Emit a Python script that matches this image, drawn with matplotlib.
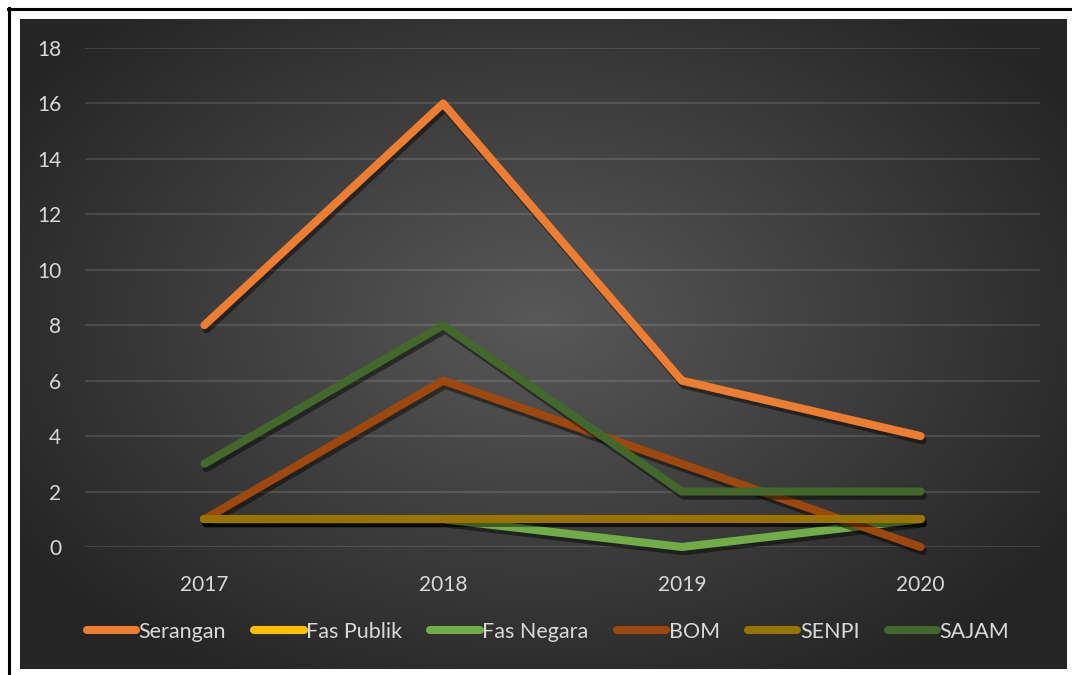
import numpy as np
import matplotlib
matplotlib.use("Agg")
import matplotlib.pyplot as plt
import matplotlib.patheffects as pe
from matplotlib.lines import Line2D

years = ["2017", "2018", "2019", "2020"]
serangan = [8, 16, 6, 4]
fas_publik = [1, 1, 1, 1]
fas_negara = [1, 1, 0, 1]
bom = [1, 6, 3, 0]
senpi = [1, 1, 1, 1]
sajam = [3, 8, 2, 2]

series = [
    ("Serangan", serangan, "#ED7D31"),
    ("Fas Publik", fas_publik, "#FFC000"),
    ("Fas Negara", fas_negara, "#70AD47"),
    ("BOM", bom, "#9E480E"),
    ("SENPI", senpi, "#997300"),
    ("SAJAM", sajam, "#43682B"),
]

W, H = 1072, 675
fig = plt.figure(figsize=(W / 100, H / 100), dpi=100, facecolor="white")

def fx(px):
    return px / W

def fy(py):
    return 1 - py / H

# dark background with radial gradient
x0, x1, y0, y1 = 20, 1067, 19, 669
bg = fig.add_axes([fx(x0), fy(y1), fx(x1 - x0), fy(y0) - fy(y1)])
bg.set_axis_off()
nx, ny = x1 - x0, y1 - y0
xx, yy = np.meshgrid(np.arange(nx), np.arange(ny))
cx, cy = 520, 300
d = np.sqrt(((xx - cx) / 620) ** 2 + ((yy - cy) / 420) ** 2)
d = np.clip(d, 0, 1)
v = 0x58 / 255 * (1 - d) + 0x25 / 255 * d
img = np.dstack([v, v, v])
bg.imshow(img, aspect="auto", interpolation="bilinear")

# black frame lines
fig.add_artist(Line2D([fx(8), fx(1072)], [fy(9), fy(9)], color="black", lw=2.2))
fig.add_artist(Line2D([fx(9), fx(9)], [fy(8), fy(675)], color="black", lw=2.2))

ax = fig.add_axes([fx(85), fy(547), fx(1040 - 85), fy(48) - fy(547)])
ax.set_facecolor("none")
ax.set_xlim(-0.5, 3.5)
ax.set_ylim(0, 18)
ax.set_yticks(range(0, 19, 2))
ax.set_xticks(range(len(years)))
ax.set_xticklabels(years)
for s in ax.spines.values():
    s.set_visible(False)
ax.grid(axis="y", color="white", alpha=0.12, lw=1.6)
ax.set_axisbelow(True)
ax.tick_params(length=0, colors="#D9D9D9", labelsize=15)
ax.tick_params(axis="y", pad=17)
ax.tick_params(axis="x", pad=20)
for lab in ax.get_xticklabels() + ax.get_yticklabels():
    lab.set_family("Lato")

x = np.arange(len(years))
handles = []
for name, vals, col in series:
    ln, = ax.plot(x, vals, color=col, lw=5.8, solid_capstyle="round",
                  solid_joinstyle="round", label=name, clip_on=False,
                  path_effects=[pe.SimpleLineShadow(offset=(1.5, -3), shadow_color="black", alpha=0.45),
                                pe.Normal()])
    handles.append(Line2D([0], [0], color=col, lw=5.8, solid_capstyle="round"))

leg = fig.legend(handles, [s[0] for s in series], loc="center", ncol=6,
                 bbox_to_anchor=(fx(548), fy(632)), frameon=False,
                 handlelength=2.3, handletextpad=0.12, columnspacing=1.3,
                 prop={"family": "Lato", "size": 15.5})
for t in leg.get_texts():
    t.set_color("#D9D9D9")

fig.savefig("out.png", dpi=100, facecolor="white")
